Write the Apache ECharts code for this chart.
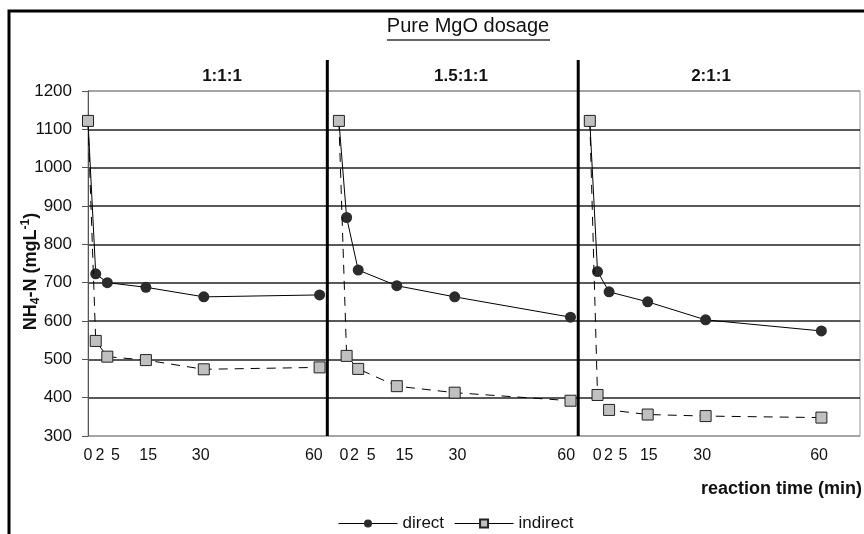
<!DOCTYPE html>
<html>
<head>
<meta charset="utf-8">
<script src="https://cdn.jsdelivr.net/npm/echarts@6/dist/echarts.min.js"></script>
<style>
  html, body { margin: 0; padding: 0; background: #fff; }
  #main { width: 864px; height: 534px; }
</style>
</head>
<body>
<div id="main"></div>
<script>
var FONT = 'Liberation Sans, Arial, sans-serif';

// reaction times (min) sampled in each panel
var timePoints = [0, 2, 5, 15, 30, 60];
// each panel is shifted along one shared x axis
var panelOffsets = [0, 65, 130];
var dividerPositions = [62, 127];
var panelNames = ['1:1:1', '1.5:1:1', '2:1:1'];

// NH4-N (mg/L)
var direct1 = [1122, 723, 700, 688, 663, 668];
var direct2 = [1122, 870, 733, 692, 663, 610];
var direct3 = [1122, 729, 676, 650, 603, 574];
var indirect1 = [1122, 548, 507, 498, 474, 479];
var indirect2 = [1122, 509, 475, 430, 413, 392];
var indirect3 = [1122, 407, 368, 356, 352, 348];

// x tick labels and where they sit on the shared axis
var tickLabels = ['0', '2', '5', '15', '30', '60'];
var labelPos1 = [0, 3.1, 7.1, 15.6, 29.2, 58.5];
var labelPos2 = [66.3, 69.0, 73.4, 82.0, 95.7, 123.9];
var labelPos3 = [131.9, 134.8, 138.6, 145.3, 159.1, 189.4];

function buildData(panels) {
    var out = [];
    for (var p = 0; p < panels.length; p++) {
        if (p > 0) out.push([dividerPositions[p - 1], null]);
        for (var i = 0; i < timePoints.length; i++) {
            out.push([panelOffsets[p] + timePoints[i], panels[p][i]]);
        }
    }
    return out;
}

var labelValues = labelPos1.concat(labelPos2, labelPos3);
var labelTexts = tickLabels.concat(tickLabels, tickLabels);

var dom = document.getElementById('main');
var myChart = echarts.init(dom);

var option = {
    animation: false,
    textStyle: { fontFamily: FONT },
    title: [
        { text: 'Pure MgO dosage', left: 468, top: 16, textAlign: 'center', padding: 0,
          textStyle: { fontSize: 20, fontWeight: 'normal', color: '#111', fontFamily: FONT } },
        { text: panelNames[0], left: 222, top: 68, textAlign: 'center', padding: 0,
          textStyle: { fontSize: 17, fontWeight: 'bold', color: '#111', fontFamily: FONT } },
        { text: panelNames[1], left: 461, top: 68, textAlign: 'center', padding: 0,
          textStyle: { fontSize: 17, fontWeight: 'bold', color: '#111', fontFamily: FONT } },
        { text: panelNames[2], left: 711, top: 68, textAlign: 'center', padding: 0,
          textStyle: { fontSize: 17, fontWeight: 'bold', color: '#111', fontFamily: FONT } }
    ],
    legend: {
        data: ['direct', 'indirect'],
        left: 338,
        top: 515,
        padding: 0,
        itemWidth: 59,
        itemHeight: 10,
        itemGap: 10,
        lineStyle: { type: 'solid', width: 1, color: '#000' },
        textStyle: { fontSize: 17, color: '#111', fontFamily: FONT }
    },
    grid: {
        left: 88, right: 4, top: 91, bottom: 98,
        outerBoundsMode: 'none',
        containLabel: false,
        show: true, borderColor: '#999', borderWidth: 1
    },
    xAxis: {
        type: 'value',
        min: 0,
        max: 200,
        name: 'reaction time (min)',
        nameLocation: 'end',
        nameGap: 2,
        nameTextStyle: {
            fontSize: 18, fontWeight: 'bold', color: '#111', fontFamily: FONT,
            align: 'right', verticalAlign: 'top', padding: [44, 0, 0, 0]
        },
        axisLine: { show: false },
        axisTick: { show: false },
        splitLine: { show: false },
        axisLabel: {
            customValues: labelValues,
            margin: 12,
            fontSize: 16,
            color: '#111',
            fontFamily: FONT,
            formatter: function (v) {
                for (var i = 0; i < labelValues.length; i++) {
                    if (Math.abs(labelValues[i] - v) < 0.01) return labelTexts[i];
                }
                return '';
            }
        }
    },
    yAxis: {
        type: 'value',
        min: 300,
        max: 1200,
        interval: 100,
        name: '{b|NH}{sub|4}{b|-N (mgL}{sup|-1}{b|)}',
        nameLocation: 'middle',
        nameRotate: 90,
        nameGap: 46,
        nameMoveOverlap: false,
        nameTextStyle: {
            color: '#111',
            padding: [0, 16, 0, 0],
            rich: {
                b: { fontSize: 18, fontWeight: 'bold', lineHeight: 22, color: '#111', fontFamily: FONT },
                sub: { fontSize: 12, fontWeight: 'bold', lineHeight: 12, verticalAlign: 'bottom', color: '#111', fontFamily: FONT },
                sup: { fontSize: 12, fontWeight: 'bold', lineHeight: 12, verticalAlign: 'top', color: '#111', fontFamily: FONT }
            }
        },
        axisLine: { show: true, lineStyle: { color: '#555', width: 1 } },
        axisTick: { show: true, length: 6, lineStyle: { color: '#555' } },
        axisLabel: {
            fontSize: 17, color: '#111', margin: 16, fontFamily: FONT,
            formatter: function (v) { return String(v); }
        },
        splitLine: {
            show: true,
            lineStyle: {
                color: ['#999', '#222', '#222', '#222', '#222', '#222', '#222', '#222', '#222', '#999'],
                width: 1.5
            }
        }
    },
    series: [
        {
            name: 'direct',
            type: 'line',
            data: buildData([direct1, direct2, direct3]),
            connectNulls: false,
            symbol: 'circle',
            symbolSize: 11,
            itemStyle: { color: '#2b2b2b' },
            lineStyle: { color: '#000', width: 1 },
            z: 3
        },
        {
            name: 'indirect',
            type: 'line',
            data: buildData([indirect1, indirect2, indirect3]),
            connectNulls: false,
            symbol: 'rect',
            symbolSize: 11,
            itemStyle: { color: '#c0c0c0', borderColor: '#222', borderWidth: 1 },
            lineStyle: { color: '#000', width: 1, type: [9, 7] },
            z: 4
        }
    ]
};

myChart.setOption(option);

// panel dividers, frame and title underline
var bottomY = myChart.convertToPixel({ yAxisIndex: 0 }, 300);
var graphics = [
    {
        type: 'rect',
        shape: { x: 9, y: 11, width: 900, height: 600 },
        style: { fill: 'none', stroke: '#000', lineWidth: 3 },
        silent: true
    },
    {
        type: 'line',
        shape: { x1: 387, y1: 40, x2: 550, y2: 40 },
        style: { stroke: '#333', lineWidth: 1.5 },
        silent: true
    }
];
for (var d = 0; d < dividerPositions.length; d++) {
    var px = myChart.convertToPixel({ xAxisIndex: 0 }, dividerPositions[d]);
    graphics.push({
        type: 'line',
        shape: { x1: px, y1: 60, x2: px, y2: bottomY },
        style: { stroke: '#000', lineWidth: 3 },
        z: 10,
        silent: true
    });
}
myChart.setOption({ graphic: graphics });
</script>
</body>
</html>
